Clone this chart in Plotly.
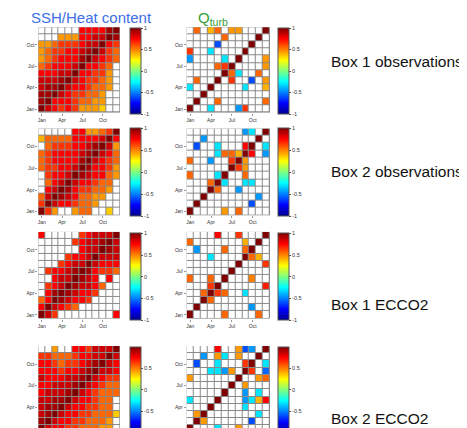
import plotly.graph_objects as go

N = None
month_ticks = [0, 3, 6, 9]
month_labels = ["Jan", "Apr", "Jul", "Oct"]
cells = list(range(12))

# rows: Jan (bottom) .. Dec (top); columns: Jan .. Dec
ssh_box1_obs = [
    [1.0, .85, .75, .65, .75, .65, .45, .45, .45, .35, N, N],
    [.93, 1.0, .75, .75, .75, .65, .55, .55, .45, .45, N, N],
    [.93, .93, 1.0, .85, .75, .65, .65, .55, .55, .45, N, N],
    [.85, .93, .93, 1.0, .85, .75, .75, .65, .55, .55, .45, N],
    [.85, .85, .85, .93, 1.0, .85, .75, .65, .65, .55, .45, N],
    [.75, .75, .75, .85, .85, 1.0, .75, .75, .65, .65, .45, N],
    [.55, .65, .75, .75, .75, .85, 1.0, .75, .75, .65, .55, N],
    [.45, .55, .65, .75, .75, .75, .93, 1.0, .85, .75, .65, .55],
    [.45, .55, .65, .65, .75, .75, .85, .93, 1.0, .85, .65, .55],
    [.45, .45, .55, .65, .65, .65, .75, .85, .85, 1.0, .75, .65],
    [N, N, N, .45, .45, .45, .75, .75, .85, .85, 1.0, .93],
    [N, N, N, N, N, N, .75, .75, .75, .75, .93, 1.0],
]
qturb_box1_obs = [
    [1.0, N, N, -.3, N, N, N, -.45, .65, N, N, N],
    [N, 1.0, N, N, .55, N, N, N, N, N, N, .55],
    [N, N, 1.0, N, N, N, N, N, N, N, N, N],
    [-.3, N, N, 1.0, N, N, N, N, -.3, N, N, .4],
    [N, .55, N, N, 1.0, N, .65, N, N, -.6, N, .45],
    [N, N, N, N, N, 1.0, .55, -.3, N, N, .55, N],
    [N, N, N, N, .55, .65, 1.0, N, N, N, N, .45],
    [-.45, N, N, N, N, -.3, N, 1.0, N, N, N, .45],
    [.65, N, N, -.3, N, N, N, N, 1.0, N, N, N],
    [N, N, N, N, -.6, N, N, N, N, 1.0, N, N],
    [N, N, N, N, N, .55, N, N, N, N, 1.0, N],
    [N, .55, N, .4, .55, N, .45, .45, N, N, N, 1.0],
]
ssh_box2_obs = [
    [1.0, .65, .45, N, N, .45, .55, .55, N, N, .35, N],
    [.65, 1.0, .85, .75, .75, .65, .55, .55, .45, N, N, N],
    [.55, .85, 1.0, .93, .85, .75, .55, .55, .45, .45, N, N],
    [N, .75, .85, 1.0, .93, .75, .65, .65, .55, .55, .45, N],
    [N, .55, .75, .85, 1.0, .85, .75, .75, .65, .55, .55, N],
    [N, .65, .75, .75, .85, 1.0, .93, .85, .75, .75, .55, .45],
    [.55, .65, .65, .75, .75, .85, 1.0, .93, .75, .75, .65, .45],
    [.55, .65, .75, .75, .75, .75, .93, 1.0, .85, .75, .65, .55],
    [.55, .65, .75, .75, .75, .75, .85, .93, 1.0, .85, .75, .55],
    [N, .55, .65, .65, .65, .75, .75, .85, .93, 1.0, .85, .45],
    [.4, .55, .55, .55, .55, .75, .75, .75, .75, .85, 1.0, .75],
    [N, N, N, N, N, .75, .75, .45, .45, .55, .65, 1.0],
]
qturb_box2_obs = [
    [1.0, N, N, N, N, .45, N, .55, N, N, N, N],
    [N, 1.0, N, N, N, N, N, N, N, -.6, N, N],
    [N, N, 1.0, N, N, N, N, N, N, N, -.45, N],
    [N, N, N, 1.0, .55, N, N, -.45, N, N, N, N],
    [N, N, N, .55, 1.0, -.3, N, N, -.3, -.3, N, N],
    [.55, N, N, N, -.3, 1.0, N, N, .55, N, N, N],
    [N, N, N, N, N, N, 1.0, .65, .45, N, N, N],
    [.55, N, N, -.45, N, N, .65, 1.0, .45, N, N, N],
    [N, N, N, N, -.3, .55, .55, .4, 1.0, .75, N, -.45],
    [N, -.6, N, N, -.3, N, N, N, .75, 1.0, N, -.3],
    [N, N, -.45, N, N, N, N, N, N, N, 1.0, N],
    [N, N, N, N, N, N, N, N, -.45, -.3, N, 1.0],
]
ssh_box1_ecco = [
    [1.0, .85, .65, N, N, N, N, N, N, N, N, .75],
    [.75, 1.0, .85, .75, .65, .55, N, N, N, N, N, N],
    [.55, .75, 1.0, .93, .85, .75, .75, .65, N, N, N, N],
    [N, .75, .93, 1.0, .93, .85, .75, .75, .65, N, N, N],
    [N, .65, .75, .85, 1.0, .93, .85, .85, .75, .55, N, N],
    [N, N, .75, .85, .85, 1.0, .93, .85, .75, N, .75, N],
    [N, .65, .75, .75, .85, .93, 1.0, .93, .75, .65, .65, .55],
    [N, N, N, .65, .75, .85, .85, 1.0, .85, .75, .75, .75],
    [N, N, N, N, .65, .75, .75, .85, 1.0, .85, .85, .85],
    [N, N, N, N, N, N, .75, .85, .85, 1.0, .93, .85],
    [N, N, N, N, N, .65, .75, .85, .85, .93, 1.0, .85],
    [.75, N, N, N, N, N, .65, .75, .85, .85, .85, 1.0],
]
qturb_box1_ecco = [
    [1.0, N, N, N, N, .55, N, N, N, N, .55, N],
    [N, 1.0, N, N, N, N, N, N, N, -.45, N, N],
    [N, N, 1.0, .55, N, N, N, N, N, N, N, N],
    [N, N, .55, 1.0, .65, .55, N, N, -.3, N, N, N],
    [N, N, N, .65, 1.0, N, N, N, N, N, N, .7],
    [.55, N, N, .55, N, 1.0, N, N, N, .5, N, N],
    [N, N, N, N, N, N, 1.0, N, N, N, N, N],
    [N, N, N, N, N, N, N, 1.0, N, N, N, .65],
    [N, N, N, -.3, N, N, N, N, 1.0, .55, .4, N],
    [N, -.45, N, N, N, .55, N, N, .55, 1.0, N, N],
    [.55, N, N, N, N, N, N, N, .4, N, 1.0, N],
    [N, N, N, N, .75, N, N, .65, N, N, N, 1.0],
]
ssh_box2_ecco = [
    [1.0, .85, .75, .75, .65, .65, .55, .55, .55, .45, .45, N],
    [.93, 1.0, .85, .75, .75, .65, .65, .55, .55, .55, .45, N],
    [.85, .93, 1.0, .85, .75, .75, .65, .65, .55, .55, .55, .35],
    [.85, .93, .93, 1.0, .85, .75, .75, .65, .65, .55, .55, N],
    [.85, .85, .93, .93, 1.0, .85, .75, .75, .65, .55, .55, N],
    [.75, .85, .85, .85, .93, 1.0, .85, .75, .65, .55, .55, .55],
    [.75, .75, .85, .85, .85, .93, 1.0, .85, .75, .65, .55, .55],
    [.85, .75, .75, .75, .85, .85, .93, 1.0, .85, .75, .65, .65],
    [.75, .75, .75, .65, .75, .75, .85, .93, 1.0, .85, .85, .75],
    [.75, .75, .65, .55, .65, .65, .75, .85, .93, 1.0, .85, .75],
    [.65, .65, .55, .55, .55, .65, .75, .75, .85, .85, 1.0, .85],
    [N, N, .45, N, N, .75, .75, .65, .85, .85, .85, 1.0],
]
qturb_box2_ecco = [
    [1.0, N, N, N, -.3, N, N, .45, N, N, N, N],
    [N, 1.0, .45, N, N, N, N, N, N, -.6, N, N],
    [N, .45, 1.0, N, N, N, N, N, N, N, -.3, N],
    [N, N, N, 1.0, N, N, N, N, -.3, N, N, N],
    [-.3, N, N, N, 1.0, N, N, N, -.45, -.3, .4, .75],
    [N, N, N, N, N, 1.0, N, N, -.45, N, -.3, N],
    [N, N, N, N, N, N, 1.0, N, .45, N, N, N],
    [.45, N, N, N, N, N, N, 1.0, N, N, .45, .55],
    [N, N, N, -.3, -.3, -.45, .45, N, 1.0, .65, N, -.55],
    [N, -.6, N, N, -.3, N, N, N, .65, 1.0, N, -.3],
    [N, N, -.45, N, .45, -.3, N, .45, N, N, 1.0, N],
    [N, N, N, N, .75, N, N, .45, -.6, -.45, N, 1.0],
]

panels = [
    [ssh_box1_obs, qturb_box1_obs],
    [ssh_box2_obs, qturb_box2_obs],
    [ssh_box1_ecco, qturb_box1_ecco],
    [ssh_box2_ecco, qturb_box2_ecco],
]
row_labels = ["Box 1 observations", "Box 2 observations", "Box 1 ECCO2", "Box 2 ECCO2"]

# the page body has an 8px margin, so the figure is offset by OFF pixels
OFF = 8
W, H = 467 - OFF, 428 - OFF
jet = [[0.0, "rgb(0,0,140)"], [0.125, "rgb(0,0,255)"], [0.375, "rgb(0,255,255)"],
       [0.625, "rgb(255,255,0)"], [0.875, "rgb(255,0,0)"], [1.0, "rgb(128,0,0)"]]
FONT = "Arial, Liberation Sans, sans-serif"


def px(x):
    return (x - OFF) / W


def py(y):
    return 1 - (y - OFF) / H


col_x = [(38.3, 120.0), (186.7, 270.0)]
row_y = [(27.2, 112.6), (128.6, 215.3), (231.9, 318.6), (346.0, 428.0)]
cbar_x = [129.5, 278.3]
cbar_top = [28.0, 128.3, 233.3, 346.7]
cbar_len = [86, 88, 87, 86]
label_y = [61.7, 171.7, 304.3, 418.3]

fig = go.Figure()
layout = dict(width=W, height=H, margin=dict(l=0, r=0, t=0, b=0, autoexpand=False),
              paper_bgcolor="white", plot_bgcolor="#8a8a8a",
              font=dict(family=FONT, size=5, color="#333"), showlegend=False)

k = 0
for r in range(4):
    for c in range(2):
        k += 1
        z = panels[r][c]
        mask = [[1 if v is None else None for v in row] for row in z]
        xa = "x" if k == 1 else f"x{k}"
        ya = "y" if k == 1 else f"y{k}"
        ticks_cb = [-1, -0.5, 0, 0.5, 1] if r < 3 else [-0.5, 0, 0.5]
        fig.add_trace(go.Heatmap(
            z=mask, x=cells, y=cells, xaxis=xa, yaxis=ya,
            colorscale=[[0, "white"], [1, "white"]], zmin=0, zmax=1,
            showscale=False, xgap=1, ygap=1, hoverinfo="skip"))
        fig.add_trace(go.Heatmap(
            z=z, x=cells, y=cells, xaxis=xa, yaxis=ya,
            colorscale=jet, zmin=-1, zmax=1, xgap=1, ygap=1,
            colorbar=dict(x=px(cbar_x[c]), xanchor="left", xref="paper",
                          y=py(cbar_top[r]), yanchor="top",
                          len=cbar_len[r], lenmode="pixels",
                          thickness=11, thicknessmode="pixels",
                          xpad=0, ypad=0, outlinewidth=1, outlinecolor="#555",
                          tickvals=ticks_cb, ticktext=[f"{v:g}" for v in ticks_cb],
                          ticks="outside", ticklen=2, tickcolor="#555",
                          tickfont=dict(size=5.5, color="#333", family=FONT))))
        x0, x1 = col_x[c]
        y0, y1 = row_y[r]
        yrange = [-0.5, 11.5] if r < 3 else [11.5 - (y1 - y0) / 7.22, 11.5]
        layout["xaxis" if k == 1 else f"xaxis{k}"] = dict(
            domain=[px(x0), px(x1)], anchor=ya, range=[-0.5, 11.5],
            tickvals=month_ticks, ticktext=month_labels, showgrid=False,
            zeroline=False, ticks="outside" if r < 3 else "", ticklen=2, tickcolor="#999",
            showticklabels=r < 3,
            tickfont=dict(size=5, color="#333"), fixedrange=True)
        layout["yaxis" if k == 1 else f"yaxis{k}"] = dict(
            domain=[max(0, py(y1)), py(y0)], anchor=xa, range=yrange,
            tickvals=month_ticks, ticktext=month_labels, showgrid=False,
            zeroline=False, ticks="outside", ticklen=2, tickcolor="#999",
            tickfont=dict(size=5, color="#333"), fixedrange=True)

annotations = [
    dict(text="SSH/Heat content", x=px(91), y=1, xref="paper", yref="paper",
         showarrow=False, xanchor="center", yanchor="top", borderpad=0,
         font=dict(size=15, color="#3c6ee6", family=FONT)),
    dict(text="Q<sub>turb</sub>", x=px(213), y=1, xref="paper", yref="paper",
         showarrow=False, xanchor="center", yanchor="top", borderpad=0,
         font=dict(size=15, color="#33a033", family=FONT)),
]
for i, t in enumerate(row_labels):
    annotations.append(dict(text=t, x=px(330), y=py(label_y[i]), xref="paper",
                            yref="paper", showarrow=False, xanchor="left",
                            yanchor="middle", borderpad=0,
                            font=dict(size=15.5, color="#111", family=FONT)))
layout["annotations"] = annotations
fig.update_layout(**layout)
fig.write_html("out.html")
